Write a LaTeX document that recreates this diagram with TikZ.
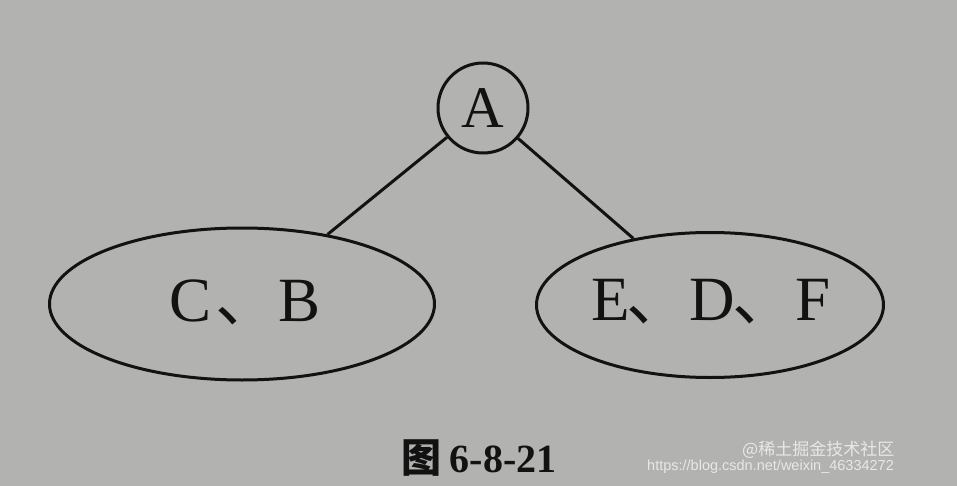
\documentclass[tikz,border=0pt]{standalone}
\usepackage{fontspec}
\setmainfont{Liberation Serif}
\newfontfamily\cjk{Noto Sans CJK SC}
\newfontfamily\wmfont{Liberation Sans}
\usetikzlibrary{shapes.geometric}
\definecolor{paper}{RGB}{178,178,176}
\definecolor{ink}{RGB}{18,18,18}
\definecolor{wm}{RGB}{232,232,232}
\tikzset{
  treenode/.style={draw=ink, line width=3pt, inner sep=0pt},
  edge/.style={draw=ink, line width=3pt},
  lbl/.style={text=ink, inner sep=0pt, font=\fontsize{63}{63}\selectfont},
  wmtext/.style={text=wm, inner sep=0pt, anchor=west}
}
\begin{document}
\begin{tikzpicture}[x=1pt,y=-1pt]
  \fill[paper] (0,0) rectangle (957,486);
  \useasboundingbox (0,0) rectangle (957,486);
  \node[treenode, circle, minimum size=90pt, text=ink, font=\fontsize{59}{59}\selectfont] (A) at (483,108) {A};
  \node[treenode, ellipse, minimum width=385pt, minimum height=152pt] (L) at (242,304) {};
  \node[lbl] (Lt) at (245,302) {C\hspace{4pt}{\cjk 、}B};
  \node[treenode, ellipse, minimum width=347pt, minimum height=145pt] (R) at (710,305) {};
  \node[lbl] (Rt) at (711,302) {E\hspace{-3pt}{\cjk 、}D\hspace{-3pt}{\cjk 、}F};
  \draw[edge] (A) -- (L);
  \draw[edge] (A) -- (R);
  \node[text=ink, font=\fontsize{40}{40}\selectfont\bfseries] (cap) at (479,458) {{\cjk\bfseries 图}\hspace{8pt}6-8-21};
  \node[wmtext, font=\wmfont\fontsize{14.5}{14.5}\selectfont] (url) at (647,467) {https://blog.csdn.net/weixin\_46334272};
  \node[wmtext, font=\cjk\fontsize{17}{17}\selectfont] (wm2) at (742,450) {@稀土掘金技术社区};
\end{tikzpicture}
\end{document}
